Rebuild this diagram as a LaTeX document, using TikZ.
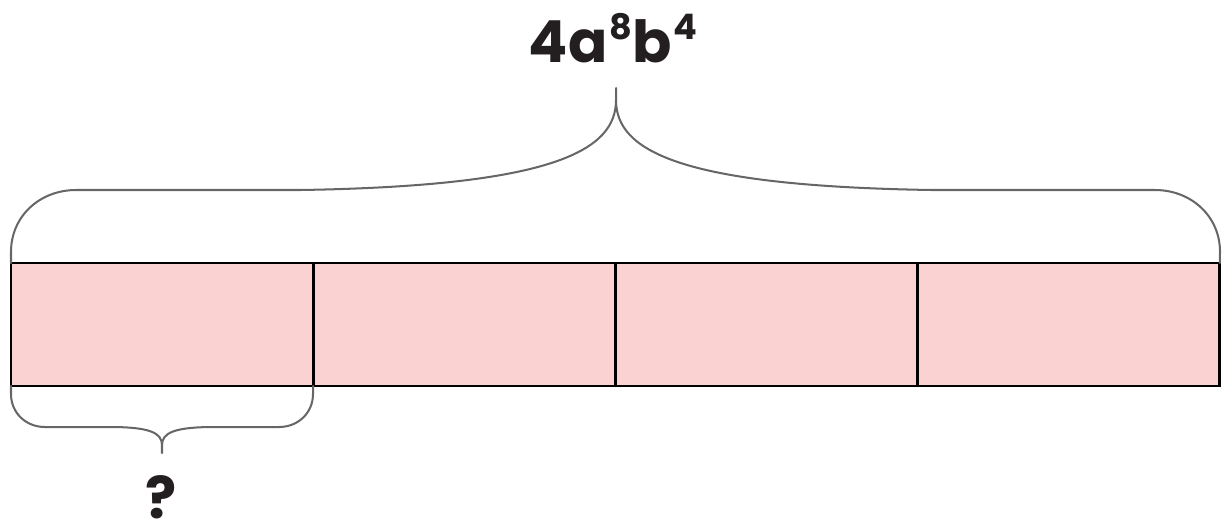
\documentclass[tikz,border=0pt]{standalone}
\usepackage{fontspec}
\setmainfont{Poppins}
\usetikzlibrary{positioning}
\definecolor{barfill}{HTML}{FAD2D1}
\definecolor{bracegray}{HTML}{666666}
\definecolor{ink}{HTML}{231F20}

\begin{document}
\begin{tikzpicture}[x=0.02cm, y=-0.02cm,
  cell/.style={draw=black, fill=barfill, line width=1.6pt, outer sep=0pt,
    inner sep=0pt, minimum width=6.045cm, minimum height=2.46cm},
  brace/.style={draw=bracegray, line width=1.15pt, line cap=round, line join=round},
  bigtext/.style={text=ink, font=\fontsize{33}{40}\selectfont\bfseries, inner sep=0pt}]
  \useasboundingbox (0,0) rectangle (1222,525);

  % Tape of four equal parts
  \node[cell] (cell1) at (162.1,324.5) {};
  \node[cell, right=0pt of cell1] (cell2) {};
  \node[cell, right=0pt of cell2] (cell3) {};
  \node[cell, right=0pt of cell3] (cell4) {};

  % Brace over the whole tape
  \coordinate (toptip) at (616,88);
  \draw[brace] (cell1.north west) -- (11,252) .. controls (11,216) and (40,190) .. (76,190)
    -- (300,190) .. controls (555,186) and (616,150) .. (616,100) -- (toptip);
  \draw[brace] (cell4.north east) -- (1220,252) .. controls (1220,216) and (1191,190) .. (1155,190)
    -- (932,190) .. controls (677,186) and (616,150) .. (616,100);
  \node[bigtext, anchor=base] (total) at (613,62)
    {4a\kern1pt\raisebox{13pt}{\fontsize{20}{22}\selectfont 8}b\kern1pt\raisebox{13pt}{\fontsize{20}{22}\selectfont 4}};

  % Brace under the first part
  \coordinate (bottip) at (162,453);
  \draw[brace] (cell1.south west) -- (11,394) .. controls (11,413) and (26,427) .. (45,427)
    -- (110,427) .. controls (150,427) and (162,433) .. (162,445) -- (bottip);
  \draw[brace] (cell1.south east) -- (313,394) .. controls (313,413) and (298,427) .. (279,427)
    -- (214,427) .. controls (174,427) and (162,433) .. (162,445);
  \node[bigtext, anchor=base] (part) at (161,518) {?};
\end{tikzpicture}
\end{document}
